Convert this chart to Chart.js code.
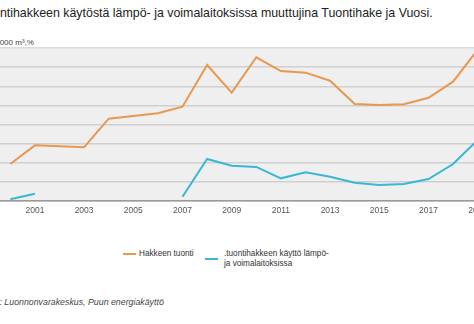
<!DOCTYPE html>
<html>
<head>
<meta charset="utf-8">
<script src="https://cdn.jsdelivr.net/npm/chart.js@4/dist/chart.umd.min.js"></script>
<style>
  html, body { margin: 0; padding: 0; background: #fff; overflow: hidden; }
  body { width: 474px; height: 324px; position: relative; font-family: "Liberation Sans", Arial, sans-serif; color: #333; }
  .txt { position: absolute; white-space: nowrap; line-height: 1; }
  #title { left: -21px; top: 7px; font-size: 12.4px; color: #222; }
  #unit { left: -7px; top: 39px; font-size: 8px; color: #444; }
  #source { left: -25px; top: 298px; font-size: 8.8px; font-style: italic; color: #444; }
  #wrap { position: absolute; left: -20px; top: 0; width: 520px; height: 221px; }
  .leg { position: absolute; font-size: 8.2px; color: #333; line-height: 9.5px; white-space: nowrap; }
  .swatch { position: absolute; height: 2px; width: 13px; }
</style>
</head>
<body>
<div class="txt" id="title">Tuontihakkeen käytöstä lämpö- ja voimalaitoksissa muuttujina Tuontihake ja Vuosi.</div>
<div class="txt" id="unit">1 000 m³,%</div>
<div id="wrap"><canvas id="myChart"></canvas></div>
<div class="swatch" style="left:123px; top:253px; background:#e8994f;"></div>
<div class="leg" style="left:139px; top:249px;">Hakkeen tuonti</div>
<div class="swatch" style="left:205px; top:258px; background:#3ab7d5;"></div>
<div class="leg" style="left:224px; top:249px;">.tuontihakkeen käyttö lämpö-<br>ja voimalaitoksissa</div>
<div class="txt" id="source">Lähde: Luonnonvarakeskus, Puun energiakäyttö</div>

<script>
const vuodet = ['2000', '2001', '2002', '2003', '2004', '2005', '2006', '2007', '2008', '2009',
    '2010', '2011', '2012', '2013', '2014', '2015', '2016', '2017', '2018', '2019'];
const hakkeenTuonti = [387, 582, 572, 562, 861, 889, 917, 986, 1422, 1133,
    1503, 1359, 1342, 1258, 1014, 1004, 1011, 1080, 1248, 1582];
const kayttoLaitoksissa = [18, 76, null, null, null, null, null, 45, 439, 369,
    356, 237, 300, 254, 191, 167, 178, 230, 387, 638];
const yTicks = [0, 200, 400, 600, 800, 1000, 1200, 1400, 1600];

const plotBackground = {
    id: 'plotBackground',
    beforeDraw(chart) {
        const { ctx, chartArea } = chart;
        ctx.save();
        ctx.fillStyle = '#efefef';
        ctx.fillRect(chartArea.left, chartArea.top, chartArea.right - chartArea.left, chartArea.bottom - chartArea.top);
        ctx.restore();
    }
};

document.addEventListener('DOMContentLoaded', function () {
    const ctx = document.getElementById('myChart').getContext('2d');
    new Chart(ctx, {
        type: 'line',
        data: {
            labels: vuodet,
            datasets: [{
                label: 'Hakkeen tuonti',
                data: hakkeenTuonti,
                borderColor: '#e8994f',
                borderWidth: 2,
                pointRadius: 0,
                tension: 0,
                fill: false
            }, {
                label: '.tuontihakkeen käyttö lämpö- ja voimalaitoksissa',
                data: kayttoLaitoksissa,
                borderColor: '#3ab7d5',
                borderWidth: 2,
                pointRadius: 0,
                tension: 0,
                spanGaps: false,
                fill: false
            }]
        },
        options: {
            responsive: true,
            maintainAspectRatio: false,
            animation: false,
            layout: { padding: { top: 48, right: 10, bottom: 0, left: 0 } },
            plugins: {
                legend: { display: false },
                tooltip: { enabled: false }
            },
            scales: {
                x: {
                    offset: true,
                    grid: { display: false, drawTicks: false },
                    border: { display: true, color: '#9a9a9a', width: 1.5 },
                    ticks: {
                        autoSkip: false,
                        maxRotation: 0,
                        padding: 5,
                        color: '#555',
                        font: { family: 'Liberation Sans', size: 8.5 },
                        callback: function (value, index) {
                            return index % 2 === 1 ? vuodet[index] : '';
                        }
                    },
                    afterFit: function (scale) { scale.height = 20; }
                },
                y: {
                    min: 0,
                    max: 1600,
                    afterBuildTicks: function (scale) {
                        scale.ticks = yTicks.map(v => ({ value: v }));
                    },
                    grid: {
                        drawTicks: false,
                        lineWidth: 1.5,
                        color: function (c) {
                            return c.tick && c.tick.value === 1600 ? '#dcdcdc' : '#d0d0d0';
                        }
                    },
                    border: { display: false },
                    ticks: {
                        padding: 3,
                        color: '#555',
                        font: { family: 'Liberation Sans', size: 8 }
                    },
                    afterFit: function (scale) { scale.width = 18; }
                }
            }
        },
        plugins: [plotBackground]
    });
});
</script>
</body>
</html>
